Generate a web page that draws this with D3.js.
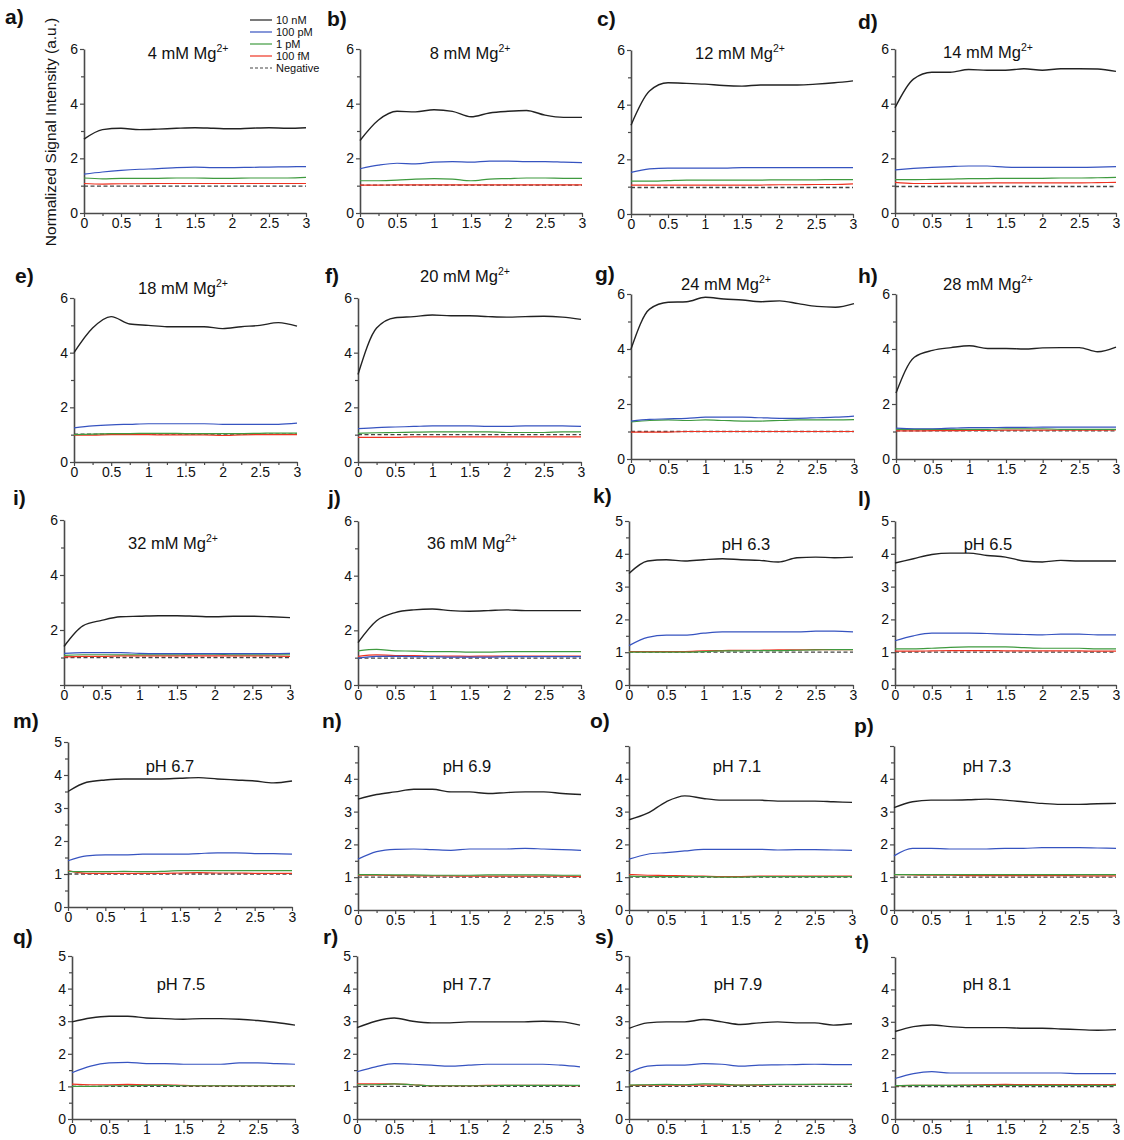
<!DOCTYPE html>
<html>
<head>
<meta charset="utf-8">
<script src="https://cdn.jsdelivr.net/npm/d3@7"></script>
<style>
  body { margin: 0; background: #fff; }
  svg { display: block; font-family: "Liberation Sans", Arial, sans-serif; }
</style>
</head>
<body>
<div id="chart"></div>
<script>
// time axis (h) shared by every panel
const times = [0, 0.25, 0.5, 0.75, 1, 1.25, 1.5, 1.75, 2, 2.25, 2.5, 2.75, 3];

const letters = ["a)", "b)", "c)", "d)", "e)", "f)", "g)", "h)", "i)", "j)",
                 "k)", "l)", "m)", "n)", "o)", "p)", "q)", "r)", "s)", "t)"];
const titles = ["4 mM Mg", "8 mM Mg", "12 mM Mg", "14 mM Mg", "18 mM Mg", "20 mM Mg",
                "24 mM Mg", "28 mM Mg", "32 mM Mg", "36 mM Mg",
                "pH 6.3", "pH 6.5", "pH 6.7", "pH 6.9", "pH 7.1", "pH 7.3",
                "pH 7.5", "pH 7.7", "pH 7.9", "pH 8.1"];
const titleSup = ["2+", "2+", "2+", "2+", "2+", "2+", "2+", "2+", "2+", "2+",
                  "", "", "", "", "", "", "", "", "", ""];
const yMax = [6, 6, 6, 6, 6, 6, 6, 6, 6, 6, 5, 5, 5, 5, 5, 5, 5, 5, 5, 5];
// y tick labels left out in the original figure
const hiddenYLabels = { "i)": [0], "n)": [5], "o)": [5], "p)": [5], "t)": [5] };

const seriesNames = ["10 nM", "100 pM", "1 pM", "100 fM", "Negative"];
const seriesColors = ["#222222", "#3653c0", "#3f9a3f", "#ee3322", "#444444"];

// 10 nM
const nM10 = [
  [2.70, 3.05, 3.10, 3.05, 3.07, 3.10, 3.12, 3.10, 3.08, 3.10, 3.12, 3.10, 3.12],
  [2.65, 3.40, 3.72, 3.70, 3.78, 3.72, 3.52, 3.66, 3.72, 3.75, 3.58, 3.50, 3.50],
  [3.25, 4.50, 4.80, 4.78, 4.75, 4.70, 4.68, 4.72, 4.72, 4.72, 4.75, 4.80, 4.87],
  [3.85, 4.90, 5.15, 5.15, 5.25, 5.22, 5.22, 5.28, 5.22, 5.28, 5.28, 5.27, 5.18],
  [4.00, 4.90, 5.32, 5.05, 5.00, 4.95, 4.95, 4.95, 4.88, 4.95, 5.00, 5.10, 4.97],
  [3.20, 4.90, 5.28, 5.32, 5.38, 5.35, 5.35, 5.32, 5.30, 5.32, 5.33, 5.30, 5.22],
  [4.00, 5.45, 5.70, 5.72, 5.88, 5.82, 5.78, 5.72, 5.75, 5.65, 5.55, 5.52, 5.65],
  [2.40, 3.70, 3.95, 4.05, 4.12, 4.02, 4.02, 4.00, 4.04, 4.05, 4.05, 3.90, 4.07],
  [1.40, 2.15, 2.35, 2.48, 2.50, 2.52, 2.52, 2.50, 2.48, 2.50, 2.50, 2.48, 2.45],
  [1.55, 2.35, 2.65, 2.75, 2.78, 2.72, 2.70, 2.72, 2.75, 2.72, 2.72, 2.72, 2.72],
  [3.40, 3.78, 3.82, 3.78, 3.82, 3.85, 3.82, 3.80, 3.75, 3.88, 3.90, 3.88, 3.90],
  [3.72, 3.85, 3.98, 4.02, 4.02, 3.95, 3.90, 3.78, 3.75, 3.80, 3.78, 3.78, 3.78],
  [3.50, 3.78, 3.85, 3.88, 3.88, 3.88, 3.90, 3.92, 3.88, 3.85, 3.82, 3.76, 3.82],
  [3.38, 3.52, 3.60, 3.68, 3.68, 3.60, 3.60, 3.55, 3.58, 3.60, 3.60, 3.55, 3.52],
  [2.75, 2.95, 3.30, 3.48, 3.40, 3.35, 3.35, 3.35, 3.32, 3.32, 3.32, 3.30, 3.28],
  [3.12, 3.30, 3.35, 3.35, 3.36, 3.38, 3.35, 3.30, 3.25, 3.22, 3.22, 3.24, 3.25],
  [2.98, 3.10, 3.15, 3.15, 3.10, 3.08, 3.06, 3.08, 3.08, 3.06, 3.02, 2.96, 2.88],
  [2.80, 3.00, 3.10, 3.00, 2.95, 2.95, 2.98, 2.98, 2.98, 2.98, 3.00, 2.98, 2.88],
  [2.78, 2.95, 2.98, 2.98, 3.05, 2.98, 2.90, 2.95, 2.98, 2.95, 2.95, 2.88, 2.92],
  [2.70, 2.85, 2.90, 2.85, 2.82, 2.82, 2.82, 2.80, 2.80, 2.78, 2.76, 2.74, 2.76]
];

// 100 pM
const pM100 = [
  [1.42, 1.50, 1.56, 1.60, 1.62, 1.66, 1.68, 1.66, 1.66, 1.67, 1.68, 1.69, 1.70],
  [1.62, 1.75, 1.82, 1.80, 1.86, 1.88, 1.86, 1.90, 1.90, 1.88, 1.88, 1.86, 1.84],
  [1.52, 1.65, 1.68, 1.68, 1.68, 1.68, 1.70, 1.70, 1.70, 1.70, 1.70, 1.70, 1.70],
  [1.58, 1.63, 1.67, 1.70, 1.72, 1.72, 1.68, 1.67, 1.67, 1.67, 1.67, 1.68, 1.70],
  [1.25, 1.32, 1.36, 1.38, 1.40, 1.40, 1.40, 1.40, 1.38, 1.38, 1.38, 1.38, 1.42],
  [1.22, 1.26, 1.28, 1.30, 1.32, 1.32, 1.32, 1.30, 1.30, 1.32, 1.32, 1.32, 1.30],
  [1.38, 1.44, 1.46, 1.48, 1.52, 1.52, 1.52, 1.50, 1.48, 1.48, 1.50, 1.52, 1.56],
  [1.12, 1.10, 1.10, 1.12, 1.14, 1.14, 1.15, 1.15, 1.16, 1.16, 1.16, 1.16, 1.16],
  [1.15, 1.18, 1.18, 1.18, 1.15, 1.14, 1.14, 1.14, 1.14, 1.14, 1.14, 1.14, 1.15],
  [0.98, 1.05, 1.05, 1.04, 1.04, 1.02, 1.02, 1.02, 1.04, 1.04, 1.04, 1.04, 1.04],
  [1.20, 1.45, 1.52, 1.52, 1.58, 1.62, 1.62, 1.62, 1.62, 1.62, 1.64, 1.64, 1.62],
  [1.35, 1.50, 1.58, 1.58, 1.58, 1.57, 1.55, 1.54, 1.53, 1.55, 1.55, 1.53, 1.53],
  [1.40, 1.55, 1.58, 1.58, 1.60, 1.60, 1.60, 1.62, 1.64, 1.64, 1.62, 1.62, 1.60],
  [1.55, 1.78, 1.85, 1.86, 1.84, 1.82, 1.86, 1.86, 1.86, 1.88, 1.86, 1.84, 1.82],
  [1.55, 1.70, 1.75, 1.80, 1.85, 1.85, 1.85, 1.85, 1.83, 1.84, 1.84, 1.83, 1.82],
  [1.65, 1.88, 1.88, 1.86, 1.86, 1.86, 1.88, 1.88, 1.90, 1.90, 1.90, 1.89, 1.88],
  [1.42, 1.62, 1.72, 1.74, 1.70, 1.70, 1.68, 1.68, 1.68, 1.72, 1.72, 1.70, 1.68],
  [1.45, 1.60, 1.70, 1.68, 1.65, 1.62, 1.65, 1.68, 1.68, 1.68, 1.68, 1.65, 1.60],
  [1.42, 1.62, 1.65, 1.65, 1.70, 1.68, 1.62, 1.65, 1.66, 1.67, 1.68, 1.67, 1.67],
  [1.25, 1.40, 1.46, 1.42, 1.42, 1.42, 1.42, 1.42, 1.42, 1.42, 1.40, 1.40, 1.40]
];

// 1 pM
const pM1 = [
  [1.28, 1.25, 1.27, 1.27, 1.27, 1.28, 1.28, 1.27, 1.27, 1.28, 1.28, 1.28, 1.30],
  [1.18, 1.18, 1.20, 1.24, 1.26, 1.24, 1.18, 1.24, 1.26, 1.28, 1.28, 1.27, 1.27],
  [1.20, 1.20, 1.22, 1.24, 1.24, 1.24, 1.24, 1.24, 1.25, 1.25, 1.25, 1.26, 1.26],
  [1.22, 1.22, 1.23, 1.24, 1.26, 1.26, 1.27, 1.27, 1.27, 1.28, 1.28, 1.29, 1.30],
  [1.00, 1.02, 1.04, 1.04, 1.05, 1.05, 1.04, 1.04, 1.04, 1.04, 1.05, 1.06, 1.06],
  [1.05, 1.07, 1.08, 1.09, 1.10, 1.10, 1.10, 1.10, 1.08, 1.08, 1.08, 1.10, 1.10],
  [1.35, 1.40, 1.42, 1.40, 1.42, 1.40, 1.38, 1.38, 1.40, 1.42, 1.42, 1.42, 1.43],
  [1.08, 1.08, 1.08, 1.08, 1.08, 1.08, 1.10, 1.10, 1.10, 1.08, 1.08, 1.08, 1.08],
  [1.08, 1.10, 1.10, 1.10, 1.10, 1.10, 1.10, 1.12, 1.12, 1.10, 1.10, 1.10, 1.10],
  [1.25, 1.30, 1.25, 1.24, 1.22, 1.22, 1.20, 1.20, 1.22, 1.22, 1.22, 1.22, 1.22],
  [1.00, 1.00, 1.00, 1.00, 1.02, 1.04, 1.04, 1.05, 1.05, 1.06, 1.07, 1.08, 1.08],
  [1.10, 1.10, 1.12, 1.15, 1.16, 1.16, 1.16, 1.14, 1.12, 1.12, 1.12, 1.10, 1.10],
  [1.08, 1.07, 1.07, 1.08, 1.07, 1.08, 1.10, 1.10, 1.10, 1.10, 1.10, 1.10, 1.10],
  [1.08, 1.08, 1.07, 1.07, 1.06, 1.06, 1.06, 1.07, 1.07, 1.07, 1.07, 1.06, 1.06],
  [1.03, 1.02, 1.02, 1.02, 1.02, 1.00, 1.00, 1.02, 1.02, 1.02, 1.02, 1.02, 1.02],
  [1.08, 1.08, 1.08, 1.08, 1.08, 1.08, 1.08, 1.08, 1.08, 1.08, 1.08, 1.08, 1.08],
  [1.00, 1.00, 1.02, 1.02, 1.03, 1.03, 1.02, 1.02, 1.02, 1.02, 1.02, 1.02, 1.02],
  [1.05, 1.05, 1.08, 1.05, 1.02, 1.02, 1.02, 1.02, 1.03, 1.03, 1.03, 1.03, 1.03],
  [1.04, 1.05, 1.06, 1.05, 1.08, 1.07, 1.04, 1.05, 1.06, 1.06, 1.06, 1.06, 1.06],
  [1.03, 1.04, 1.04, 1.04, 1.04, 1.04, 1.04, 1.04, 1.04, 1.04, 1.04, 1.04, 1.04]
];

// 100 fM
const fM100 = [
  [1.08, 1.06, 1.07, 1.07, 1.08, 1.08, 1.08, 1.08, 1.08, 1.08, 1.08, 1.08, 1.08],
  [1.02, 1.02, 1.03, 1.03, 1.03, 1.03, 1.03, 1.03, 1.03, 1.03, 1.03, 1.03, 1.03],
  [1.06, 1.06, 1.06, 1.06, 1.06, 1.06, 1.06, 1.06, 1.07, 1.07, 1.08, 1.08, 1.10],
  [1.12, 1.08, 1.08, 1.09, 1.09, 1.10, 1.10, 1.10, 1.10, 1.10, 1.10, 1.11, 1.12],
  [0.98, 0.98, 1.00, 1.00, 1.00, 0.99, 0.99, 0.99, 0.97, 0.99, 1.00, 1.00, 1.00],
  [0.90, 0.90, 0.90, 0.92, 0.92, 0.92, 0.92, 0.92, 0.92, 0.92, 0.92, 0.92, 0.92],
  [0.98, 0.98, 0.98, 1.00, 1.00, 1.00, 1.00, 1.00, 1.00, 1.00, 1.00, 1.00, 1.00],
  [1.02, 1.02, 1.03, 1.03, 1.04, 1.04, 1.05, 1.05, 1.05, 1.05, 1.05, 1.05, 1.06],
  [1.02, 1.04, 1.04, 1.06, 1.06, 1.06, 1.06, 1.06, 1.06, 1.06, 1.06, 1.06, 1.04],
  [1.05, 1.10, 1.08, 1.08, 1.06, 1.06, 1.05, 1.06, 1.06, 1.06, 1.06, 1.06, 1.06],
  [1.02, 1.02, 1.02, 1.02, 1.04, 1.05, 1.06, 1.06, 1.07, 1.07, 1.08, 1.08, 1.08],
  [1.03, 1.03, 1.04, 1.05, 1.05, 1.05, 1.04, 1.04, 1.04, 1.04, 1.04, 1.03, 1.03],
  [1.10, 1.02, 1.02, 1.02, 1.02, 1.02, 1.03, 1.04, 1.03, 1.03, 1.02, 1.02, 1.02],
  [1.06, 1.06, 1.05, 1.04, 1.04, 1.04, 1.03, 1.03, 1.03, 1.03, 1.03, 1.03, 1.02],
  [1.08, 1.06, 1.05, 1.04, 1.03, 1.02, 1.02, 1.03, 1.03, 1.03, 1.03, 1.03, 1.03],
  [1.08, 1.07, 1.06, 1.06, 1.05, 1.05, 1.05, 1.05, 1.05, 1.05, 1.04, 1.04, 1.04],
  [1.07, 1.05, 1.05, 1.06, 1.05, 1.05, 1.03, 1.02, 1.02, 1.02, 1.02, 1.02, 1.02],
  [1.08, 1.08, 1.08, 1.05, 1.02, 1.02, 1.02, 1.03, 1.03, 1.03, 1.03, 1.03, 1.02],
  [1.03, 1.04, 1.04, 1.04, 1.04, 1.04, 1.04, 1.04, 1.05, 1.05, 1.06, 1.06, 1.07],
  [1.03, 1.04, 1.04, 1.04, 1.05, 1.06, 1.07, 1.06, 1.06, 1.06, 1.06, 1.06, 1.07]
];

// negative control level (flat)
const negative = [0.98, 1.02, 0.97, 0.97, 1.02, 1.00, 1.00, 1.02, 1.00, 0.98,
                  1.00, 1.00, 1.00, 1.00, 1.00, 1.00, 1.00, 1.00, 1.00, 1.00];

// panel frames: [x0, x1, yTop, yZero, titleX, titleY, letterX, letterY]
const frames = [
  [84, 306, 49, 213, 188, 59, 5, 24],
  [360, 582, 49, 213, 470, 59, 327, 26],
  [631, 853, 50, 214, 740, 59, 597, 26],
  [895, 1116, 49, 213, 988, 58, 858, 29],
  [74, 297, 298, 462, 183, 294, 15, 283],
  [358, 581, 298, 462, 465, 282, 325, 283],
  [631, 854, 294, 459, 726, 290, 595, 281],
  [896, 1116, 294, 459, 988, 290, 858, 283],
  [64, 290, 520, 685, 173, 549, 13, 505],
  [358, 581, 521, 685, 472, 549, 328, 505],
  [629, 853, 521, 685, 746, 550, 593, 503],
  [895, 1116, 521, 685, 988, 550, 858, 506],
  [68, 292, 742, 907, 170, 772, 13, 728],
  [358, 581, 746, 910, 467, 772, 322, 728],
  [629, 852, 746, 910, 737, 772, 590, 728],
  [894, 1116, 746, 910, 987, 772, 854, 733],
  [72, 295, 956, 1119, 181, 990, 13, 944],
  [357, 580, 956, 1119, 467, 990, 323, 944],
  [629, 852, 956, 1119, 738, 990, 595, 944],
  [895, 1116, 957, 1119, 987, 990, 855, 949]
];

const width = 1124, height = 1140;
const axisColor = "#4a4a4a";

const svg = d3.select("#chart").append("svg")
  .attr("width", width)
  .attr("height", height);

letters.forEach((letter, i) => {
  const [x0, x1, yTop, yZero, tx, ty, lx, ly] = frames[i];
  const g = svg.append("g");

  const x = d3.scaleLinear().domain([0, 3]).range([x0, x1]);
  const y = d3.scaleLinear().domain([0, yMax[i]]).range([yZero, yTop]);

  // minor ticks first, then major axes on top
  const yStep = yMax[i] === 6 ? 2 : 1;
  const yMajor = d3.range(0, yMax[i] + 0.001, yStep);
  const yMinor = d3.range(yStep / 2, yMax[i], yStep);
  const xMajor = [0, 0.5, 1, 1.5, 2, 2.5, 3];
  const xMinor = [0.25, 0.75, 1.25, 1.75, 2.25, 2.75];
  const hide = hiddenYLabels[letter] || [];

  g.append("g")
    .attr("transform", `translate(${x0},0)`)
    .call(d3.axisLeft(y).tickValues(yMinor).tickSize(3).tickFormat(""))
    .call(a => a.select(".domain").remove());
  g.append("g")
    .attr("transform", `translate(0,${yZero})`)
    .call(d3.axisBottom(x).tickValues(xMinor).tickSize(3).tickFormat(""))
    .call(a => a.select(".domain").remove());

  const yAxis = g.append("g")
    .attr("transform", `translate(${x0},0)`)
    .call(d3.axisLeft(y).tickValues(yMajor).tickSize(4).tickSizeOuter(0).tickPadding(2)
      .tickFormat(v => hide.includes(v) ? "" : d3.format("d")(v)));
  const xAxis = g.append("g")
    .attr("transform", `translate(0,${yZero})`)
    .call(d3.axisBottom(x).tickValues(xMajor).tickSize(4).tickSizeOuter(0).tickPadding(1)
      .tickFormat(d3.format("")));

  [yAxis, xAxis].forEach(a => {
    a.select(".domain").attr("stroke", axisColor).attr("stroke-width", 1.6);
    a.selectAll("text").attr("fill", "#111").style("font-size", "14px")
      .style("font-family", "'Liberation Sans', Arial, sans-serif");
  });
  g.selectAll(".tick line").attr("stroke", axisColor).attr("stroke-width", 1.2);

  const line = d3.line()
    .x((d, k) => x(times[k]))
    .y(d => y(d))
    .curve(d3.curveMonotoneX);

  // negative control, dashed
  g.append("path")
    .datum(times.map(() => negative[i]))
    .attr("d", line)
    .attr("fill", "none")
    .attr("stroke", seriesColors[4])
    .attr("stroke-width", 1.3)
    .attr("stroke-dasharray", "4,2.5");

  [fM100, pM1, pM100, nM10].forEach((arr, k) => {
    const idx = 3 - k;
    g.append("path")
      .datum(arr[i])
      .attr("d", line)
      .attr("fill", "none")
      .attr("stroke", seriesColors[idx])
      .attr("stroke-width", idx === 0 ? 1.4 : 1.2);
  });

  // panel title
  const t = g.append("text")
    .attr("x", tx)
    .attr("y", ty)
    .attr("text-anchor", "middle")
    .style("font-size", "16.5px")
    .attr("fill", "#111")
    .text(titles[i]);
  if (titleSup[i]) {
    t.append("tspan")
      .attr("dy", -7)
      .style("font-size", "10.5px")
      .text(titleSup[i]);
  }

  // panel letter
  g.append("text")
    .attr("x", lx)
    .attr("y", ly)
    .style("font-family", "'Liberation Sans Narrow', 'Liberation Sans', Arial, sans-serif")
    .style("font-weight", "bold")
    .style("font-size", "21px")
    .attr("fill", "#111")
    .text(letter);
});

// y axis title (shared, left of panel a)
svg.append("text")
  .attr("transform", "translate(56,132) rotate(-90)")
  .attr("text-anchor", "middle")
  .style("font-size", "15.5px")
  .attr("fill", "#111")
  .text("Normalized Signal Intensity (a.u.)");

// legend in the corner of panel a
const legend = svg.append("g").attr("transform", "translate(250,20)");
seriesNames.forEach((name, k) => {
  const row = legend.append("g").attr("transform", `translate(0,${k * 12})`);
  row.append("line")
    .attr("x1", 0).attr("x2", 22)
    .attr("stroke", seriesColors[k])
    .attr("stroke-width", 1.2)
    .attr("stroke-dasharray", k === 4 ? "3,2" : null);
  row.append("text")
    .attr("x", 26)
    .attr("y", 4)
    .style("font-size", "11px")
    .attr("fill", "#111")
    .text(name);
});
</script>
</body>
</html>
